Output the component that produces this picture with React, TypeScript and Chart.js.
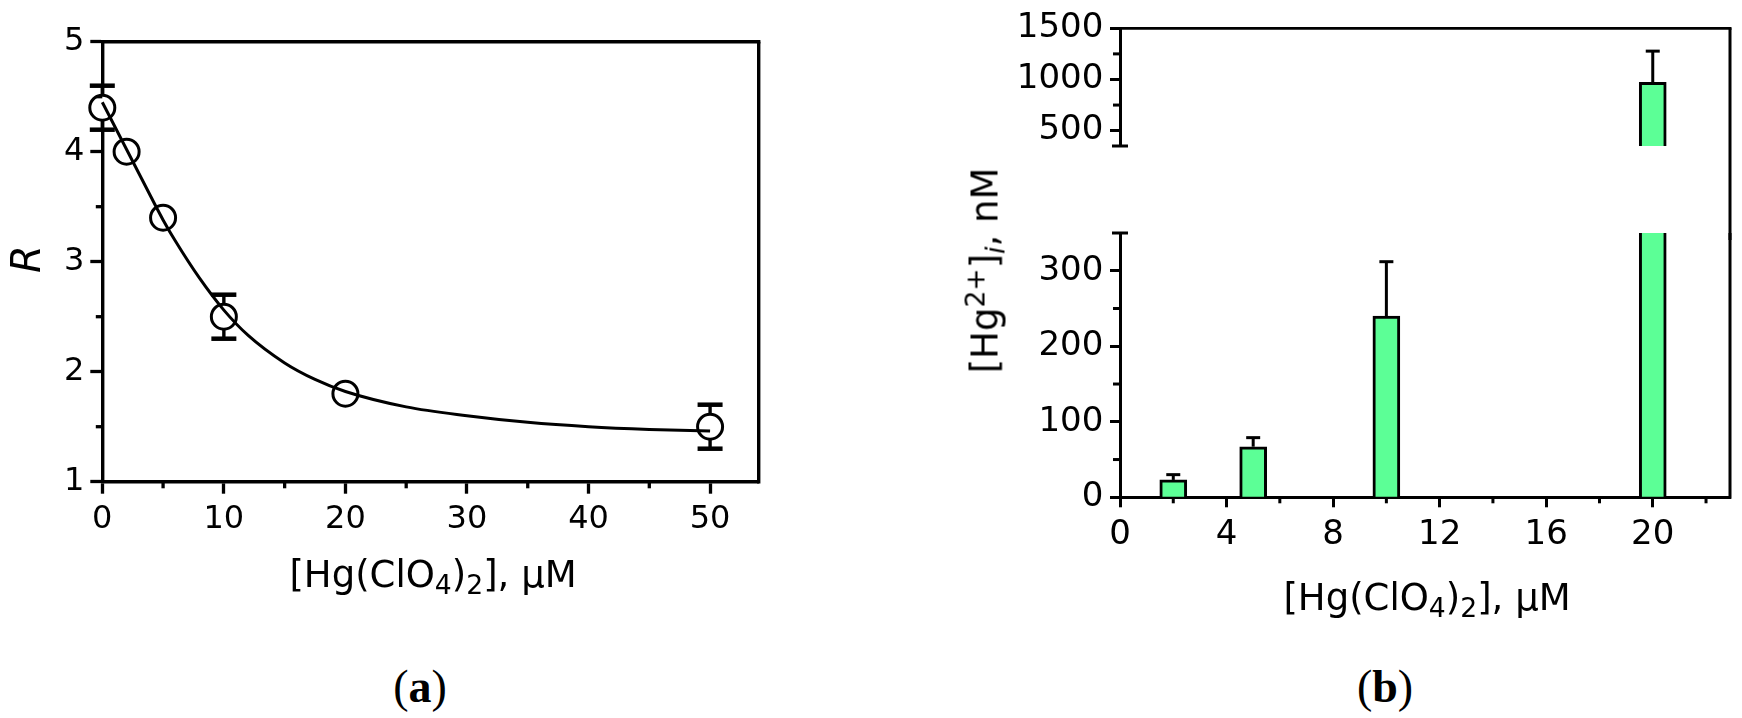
import React, { useEffect, useRef } from "react";
import { Chart, registerables } from "chart.js";

Chart.register(...registerables);

const SANS = "'DejaVu Sans', 'Liberation Sans', Arial, sans-serif";
const SERIF = "'Liberation Serif', 'Times New Roman', serif";

// ---------- Panel (a) data ----------
const concA = [0, 2, 5, 10, 20, 50];
const ratioA = [4.4, 4.0, 3.4, 2.5, 1.8, 1.5];
const errA = [0.2, 0, 0, 0.2, 0, 0.2];
const fitConc = [0, 2, 4, 5, 6, 8, 10, 12, 15, 17.5, 20, 25, 30, 35, 40, 45, 50];
const fitRatio = [4.45, 4.02, 3.59, 3.38, 3.19, 2.85, 2.56, 2.33, 2.08, 1.93, 1.82, 1.68, 1.6, 1.54, 1.5, 1.475, 1.46];
const xTicksA = [0, 10, 20, 30, 40, 50];
const xMinorA = [5, 15, 25, 35, 45];
const yTicksA = [1, 2, 3, 4, 5];
const yMinorA = [1.5, 2.5, 3.5, 4.5];

// ---------- Panel (b) data ----------
const concB = [2, 5, 10, 20];
const hgB = [23, 67, 240, 971];
const errB = [7, 12, 72, 306];
const xTicksB = [0, 4, 8, 12, 16, 20];
const xMinorB = [2, 6, 10, 14, 18, 22];
const yTicksLow = [0, 100, 200, 300];
const yMinorLow = [50, 150, 250];
const yTicksHigh = [500, 1000, 1500];
const yMinorHigh = [750, 1250];
const breakAt = 350;

function seg(ctx: CanvasRenderingContext2D, x1: number, y1: number, x2: number, y2: number, w: number) {
  ctx.save();
  ctx.strokeStyle = "#000";
  ctx.lineWidth = w;
  ctx.lineCap = "butt";
  ctx.beginPath();
  ctx.moveTo(x1, y1);
  ctx.lineTo(x2, y2);
  ctx.stroke();
  ctx.restore();
}

const plugA = {
  id: "panelA",
  beforeDatasetsDraw(chart: any) {
    const { ctx, scales } = chart;
    const x = scales.x, y = scales.y;
    concA.forEach((c, i) => {
      if (errA[i] <= 0) return;
      const px = x.getPixelForValue(c);
      const t = y.getPixelForValue(ratioA[i] + errA[i]);
      const b = y.getPixelForValue(ratioA[i] - errA[i]);
      seg(ctx, px, t, px, b, 3.4);
      seg(ctx, px - 12.5, t, px + 12.5, t, 4.5);
      seg(ctx, px - 12.5, b, px + 12.5, b, 4.5);
    });
  },
  afterDraw(chart: any) {
    const { ctx, chartArea: a, scales } = chart;
    const x = scales.x, y = scales.y;
    seg(ctx, a.left, a.top, a.right + 1.7, a.top, 3.4);
    seg(ctx, a.right, a.top, a.right, a.bottom + 1.7, 3.4);
    xMinorA.forEach((v) => {
      const px = x.getPixelForValue(v);
      seg(ctx, px, a.bottom, px, a.bottom + 6.6, 3.3);
    });
    yMinorA.forEach((v) => {
      const py = y.getPixelForValue(v);
      seg(ctx, a.left - 6.5, py, a.left, py, 3.3);
    });
  },
};

function makePlugB(isTop: boolean) {
  return {
    id: isTop ? "panelBTop" : "panelBLow",
    afterDatasetsDraw(chart: any) {
      const { ctx, scales } = chart;
      const x = scales.x, y = scales.y;
      concB.forEach((c, i) => {
        const v = hgB[i];
        if (isTop ? v <= breakAt : v > breakAt) return;
        const px = x.getPixelForValue(c);
        const p1 = y.getPixelForValue(v);
        const p2 = y.getPixelForValue(v + errB[i]);
        seg(ctx, px, p1, px, p2, 3);
        seg(ctx, px - 7, p2, px + 7, p2, 3);
      });
    },
    afterDraw(chart: any) {
      const { ctx, chartArea: a, scales } = chart;
      const x = scales.x, y = scales.y;
      if (isTop) {
        seg(ctx, a.left, a.top, a.right + 1.5, a.top, 2.7);
        seg(ctx, a.right, a.top, a.right, chart.height, 3);
        seg(ctx, a.left - 8, a.bottom, a.left + 8, a.bottom, 3);
        yMinorHigh.forEach((v) => {
          const py = y.getPixelForValue(v);
          seg(ctx, a.left - 7, py, a.left, py, 3);
        });
      } else {
        seg(ctx, a.right, a.top, a.right, a.bottom + 1.5, 3);
        seg(ctx, a.left - 8, a.top, a.left + 8, a.top, 3);
        yMinorLow.forEach((v) => {
          const py = y.getPixelForValue(v);
          seg(ctx, a.left - 7, py, a.left, py, 3);
        });
        xMinorB.forEach((v) => {
          const px = x.getPixelForValue(v);
          seg(ctx, px, a.bottom, px, a.bottom + 6, 3);
        });
      }
    },
  };
}

const W_A = 880, H_A = 600;
const W_B = 842, H_BLOW = 620, H_BTOP = 240;
const plain = (v: any) => String(v);

function makeChartA(canvas: HTMLCanvasElement) {
  return new Chart(canvas, {
    type: "scatter",
    data: {
      datasets: [
        {
          type: "line",
          data: fitConc.map((x, i) => ({ x, y: fitRatio[i] })),
          borderColor: "#000",
          borderWidth: 3,
          pointRadius: 0,
          cubicInterpolationMode: "monotone",
          fill: false,
          order: 0,
          clip: false,
        } as any,
        {
          type: "scatter",
          data: concA.map((x, i) => ({ x, y: ratioA[i] })),
          pointRadius: 12.5,
          pointBorderWidth: 3,
          pointBorderColor: "#000",
          pointBackgroundColor: "#fff",
          order: 1,
          clip: false,
        } as any,
      ],
    },
    options: {
      animation: false,
      responsive: false,
      maintainAspectRatio: false,
      events: [],
      plugins: { legend: { display: false }, tooltip: { enabled: false } },
      layout: { padding: { left: 0, top: 41.7, right: W_A - 758.7, bottom: H_A - 481.7 - 60 } },
      scales: {
        x: {
          type: "linear",
          min: 0,
          max: 54,
          afterBuildTicks: (s: any) => { s.ticks = xTicksA.map((v) => ({ value: v })); },
          afterFit: (s: any) => { s.height = 60; },
          ticks: { font: { family: SANS, size: 32 }, color: "#000", padding: 7, maxRotation: 0, autoSkip: false, callback: plain },
          grid: { drawOnChartArea: false, drawTicks: true, tickLength: 12, tickWidth: 3.3, tickColor: "#000" },
          border: { display: true, color: "#000", width: 3.4 },
        },
        y: {
          type: "linear",
          min: 1,
          max: 5,
          afterBuildTicks: (s: any) => { s.ticks = yTicksA.map((v) => ({ value: v })); },
          afterFit: (s: any) => { s.width = 102.3; },
          ticks: { font: { family: SANS, size: 32 }, color: "#000", padding: 6, autoSkip: false, callback: plain },
          grid: { drawOnChartArea: false, drawTicks: true, tickLength: 12, tickWidth: 3.3, tickColor: "#000" },
          border: { display: true, color: "#000", width: 3.4 },
        },
      },
    } as any,
    plugins: [plugA],
  });
}

function makeChartB(canvas: HTMLCanvasElement, isTop: boolean) {
  const data = concB
    .map((x, i) => ({ x, y: hgB[i] }))
    .filter((d) => (isTop ? d.y > breakAt : true));
  const h = isTop ? H_BTOP : H_BLOW;
  return new Chart(canvas, {
    type: "bar",
    data: {
      datasets: [
        {
          data,
          backgroundColor: "#5CFF96",
          borderColor: "#000",
          borderWidth: 3,
          borderSkipped: "start",
          barThickness: 27,
          clip: 0,
        } as any,
      ],
    },
    options: {
      animation: false,
      responsive: false,
      maintainAspectRatio: false,
      events: [],
      plugins: { legend: { display: false }, tooltip: { enabled: false } },
      layout: {
        padding: isTop
          ? { left: 0, top: 28.3, right: 12, bottom: h - 206 }
          : { left: 0, top: 233, right: 12, bottom: h - 497.3 - 60 },
      },
      scales: {
        x: {
          type: "linear",
          display: !isTop,
          min: 0,
          max: 22.9,
          offset: false,
          afterBuildTicks: (s: any) => { s.ticks = xTicksB.map((v) => ({ value: v })); },
          afterFit: (s: any) => { s.height = 60; },
          ticks: { font: { family: SANS, size: 34 }, color: "#000", padding: 7, maxRotation: 0, autoSkip: false, callback: plain },
          grid: { offset: false, drawOnChartArea: false, drawTicks: true, tickLength: 10, tickWidth: 3, tickColor: "#000" },
          border: { display: true, color: "#000", width: 3 },
        },
        y: {
          type: "linear",
          min: isTop ? breakAt : 0,
          max: isTop ? 1500 : breakAt,
          beginAtZero: false,
          afterBuildTicks: (s: any) => {
            s.ticks = (isTop ? yTicksHigh : yTicksLow).map((v) => ({ value: v }));
          },
          afterFit: (s: any) => { s.width = 220; },
          ticks: { font: { family: SANS, size: 34 }, color: "#000", padding: 6.7, autoSkip: false, callback: plain },
          grid: { drawOnChartArea: false, drawTicks: true, tickLength: 10, tickWidth: 3, tickColor: "#000" },
          border: { display: true, color: "#000", width: 3 },
        },
      },
    } as any,
    plugins: [makePlugB(isTop)],
  });
}

function TextAt(props: { cx: number; baseline: number; size: number; serif?: boolean; children: any }) {
  const asc = props.serif ? 0.8375 : 0.846;
  return (
    <div
      style={{
        position: "absolute",
        left: props.cx - 300,
        width: 600,
        top: props.baseline - asc * props.size,
        height: props.size,
        lineHeight: props.size + "px",
        fontSize: props.size,
        fontFamily: props.serif ? SERIF : SANS,
        textAlign: "center",
        whiteSpace: "nowrap",
        color: "#000",
      }}
    >
      {props.children}
    </div>
  );
}

function RotText(props: { cx: number; cy: number; size: number; children: any }) {
  return (
    <div
      style={{
        position: "absolute",
        left: props.cx - 200,
        top: props.cy - props.size / 2,
        width: 400,
        height: props.size,
        lineHeight: props.size + "px",
        fontSize: props.size,
        fontFamily: SANS,
        textAlign: "center",
        whiteSpace: "nowrap",
        transform: "rotate(-90deg)",
        transformOrigin: "50% 50%",
        color: "#000",
      }}
    >
      {props.children}
    </div>
  );
}

const subStyle: React.CSSProperties = { fontSize: "0.72em", verticalAlign: "-0.26em", lineHeight: 0 };
const supStyle: React.CSSProperties = { fontSize: "0.72em", verticalAlign: "0.5em", lineHeight: 0 };

function XTitle() {
  return (
    <>
      [Hg(ClO<span style={subStyle}>4</span>)<span style={subStyle}>2</span>], μM
    </>
  );
}

export default function App() {
  const refA = useRef<HTMLCanvasElement>(null);
  const refBLow = useRef<HTMLCanvasElement>(null);
  const refBTop = useRef<HTMLCanvasElement>(null);

  useEffect(() => {
    const charts: Chart[] = [];
    if (refA.current) charts.push(makeChartA(refA.current));
    if (refBLow.current) charts.push(makeChartB(refBLow.current, false));
    if (refBTop.current) charts.push(makeChartB(refBTop.current, true));
    return () => charts.forEach((c) => c.destroy());
  }, []);

  return (
    <div
      style={{
        position: "absolute",
        left: 0,
        top: 0,
        width: 1742,
        height: 718,
        background: "#fff",
        overflow: "hidden",
      }}
    >
      <canvas ref={refA} width={W_A} height={H_A} style={{ position: "absolute", left: 0, top: 0, width: W_A, height: H_A }} />
      <canvas ref={refBLow} width={W_B} height={H_BLOW} style={{ position: "absolute", left: 900, top: 0, width: W_B, height: H_BLOW }} />
      <canvas ref={refBTop} width={W_B} height={H_BTOP} style={{ position: "absolute", left: 900, top: 0, width: W_B, height: H_BTOP }} />

      <TextAt cx={433} baseline={587} size={37}><XTitle /></TextAt>
      <TextAt cx={1427} baseline={610} size={37}><XTitle /></TextAt>

      <RotText cx={26} cy={259} size={40}><span style={{ fontStyle: "italic" }}>R</span></RotText>
      <RotText cx={985} cy={270} size={37}>
        [Hg<span style={supStyle}>2+</span>]<span style={{ ...subStyle, fontStyle: "italic" }}>i</span>, nM
      </RotText>

      <TextAt cx={420} baseline={703} size={46} serif>
        (<b>a</b>)
      </TextAt>
      <TextAt cx={1385} baseline={703} size={46} serif>
        (<b>b</b>)
      </TextAt>
    </div>
  );
}
